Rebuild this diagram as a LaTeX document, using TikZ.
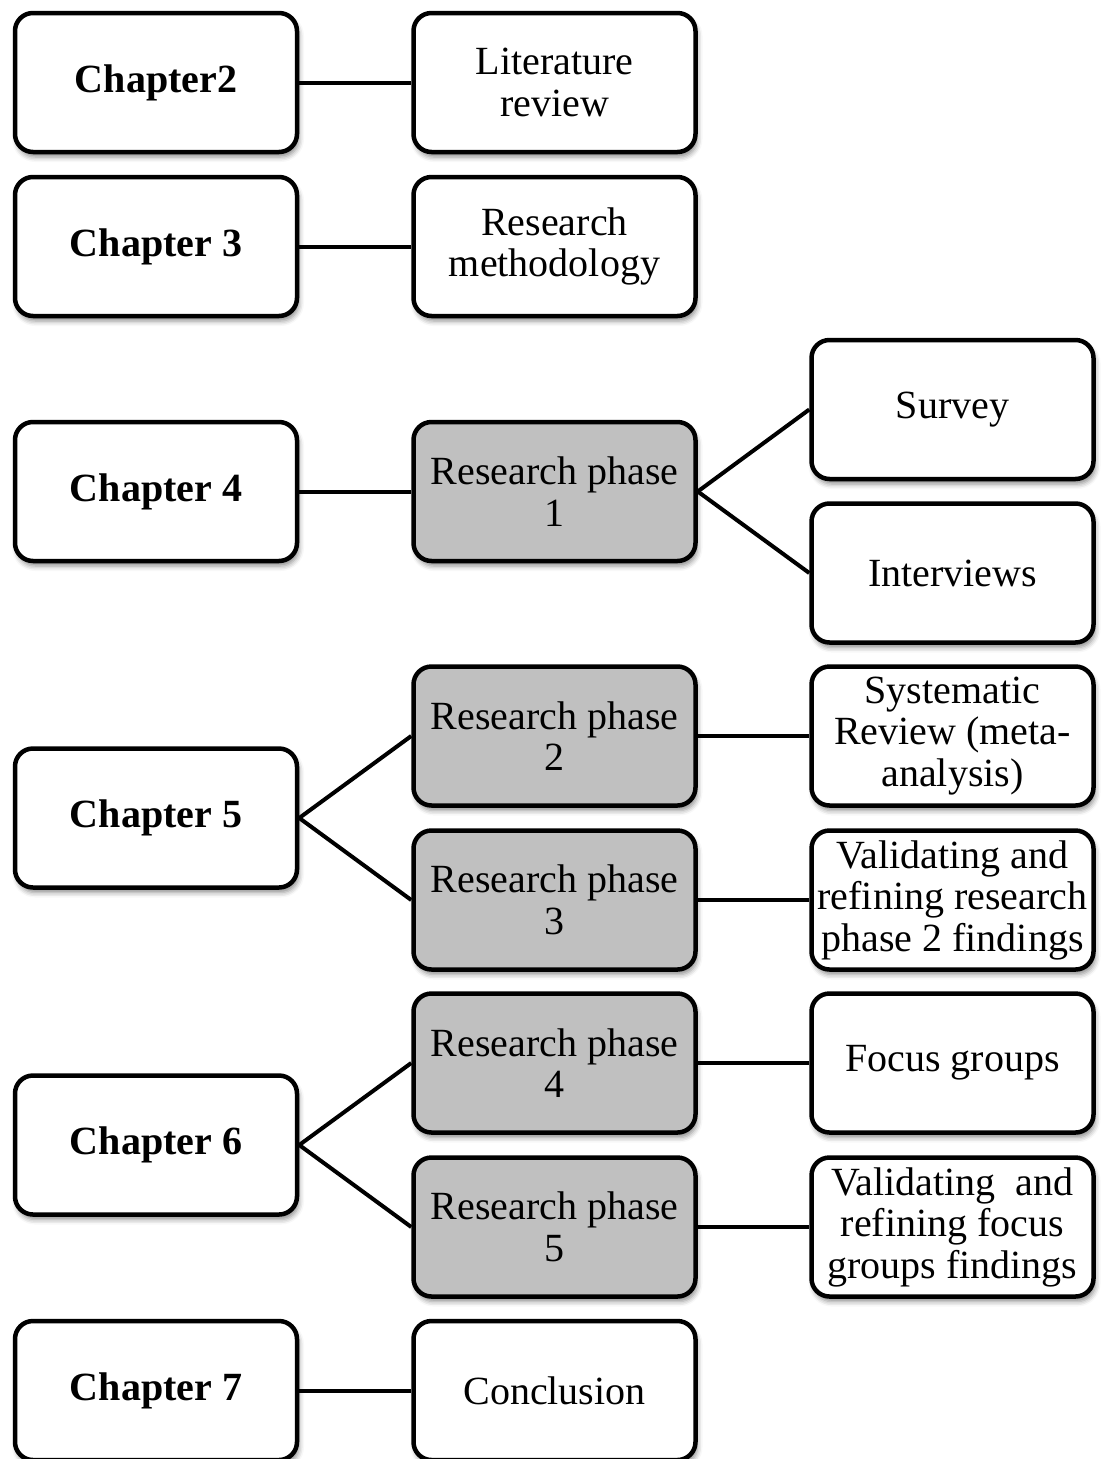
\documentclass[tikz,border=0pt]{standalone}
\usepackage{fontspec}
\setmainfont{Liberation Serif}
\usetikzlibrary{shadows.blur}
\begin{document}
\begin{tikzpicture}[x={(1pt,0)}, y={(0,-1pt)},
  box/.style={draw=black, line width=4.5pt, rounded corners=18pt, fill=white,
    minimum width=282pt, minimum height=139pt, inner sep=2pt, align=center,
    font=\fontsize{40}{41.5}\selectfont,
    blur shadow={shadow xshift=2pt, shadow yshift=-5pt, shadow blur radius=5pt, shadow opacity=45}},
  chap/.style={box, font=\fontsize{40}{41.5}\selectfont\bfseries},
  phase/.style={box, fill=phasegray},
  link/.style={line width=4pt}]
\definecolor{phasegray}{RGB}{192,192,192}
\useasboundingbox (0,0) rectangle (1104,1459);

% chapters
\node[chap] (c2) at (156,82.5) {Chapter2};
\node[chap] (c3) at (156,246.5) {Chapter 3};
\node[chap] (c4) at (156,491.5) {Chapter 4};
\node[chap] (c5) at (156,818) {Chapter 5};
\node[chap] (c6) at (156,1145) {Chapter 6};
\node[chap] (c7) at (156,1390.5) {Chapter 7};

% middle column
\node[box] (lit) at (554.5,82.5) {Literature\\review};
\node[box] (meth) at (554.5,246.5) {Research\\methodology};
\node[phase] (p1) at (554.5,491.5) {Research phase\\1};
\node[phase] (p2) at (554.5,736) {Research phase\\2};
\node[phase] (p3) at (554.5,900) {Research phase\\3};
\node[phase] (p4) at (554.5,1063) {Research phase\\4};
\node[phase] (p5) at (554.5,1227) {Research phase\\5};
\node[box] (conc) at (554.5,1390.5) {Conclusion};

% right column
\node[box] (surv) at (952.5,409.5) {Survey};
\node[box] (intv) at (952.5,573) {Interviews};
\node[box] (sysr) at (952.5,736) {Systematic\\Review (meta-\\analysis)};
\node[box] (val2) at (952.5,900) {Validating and\\refining research\\phase 2 findings};
\node[box] (foc) at (952.5,1063) {Focus groups};
\node[box] (valf) at (952.5,1227) {Validating\ \ and\\refining focus\\groups findings};

% connectors
\draw[link] (c2.east) -- (lit.west);
\draw[link] (c3.east) -- (meth.west);
\draw[link] (c4.east) -- (p1.west);
\draw[link] (p1.east) -- (surv.west);
\draw[link] (p1.east) -- (intv.west);
\draw[link] (c5.east) -- (p2.west);
\draw[link] (c5.east) -- (p3.west);
\draw[link] (p2.east) -- (sysr.west);
\draw[link] (p3.east) -- (val2.west);
\draw[link] (c6.east) -- (p4.west);
\draw[link] (c6.east) -- (p5.west);
\draw[link] (p4.east) -- (foc.west);
\draw[link] (p5.east) -- (valf.west);
\draw[link] (c7.east) -- (conc.west);
\end{tikzpicture}
\end{document}
